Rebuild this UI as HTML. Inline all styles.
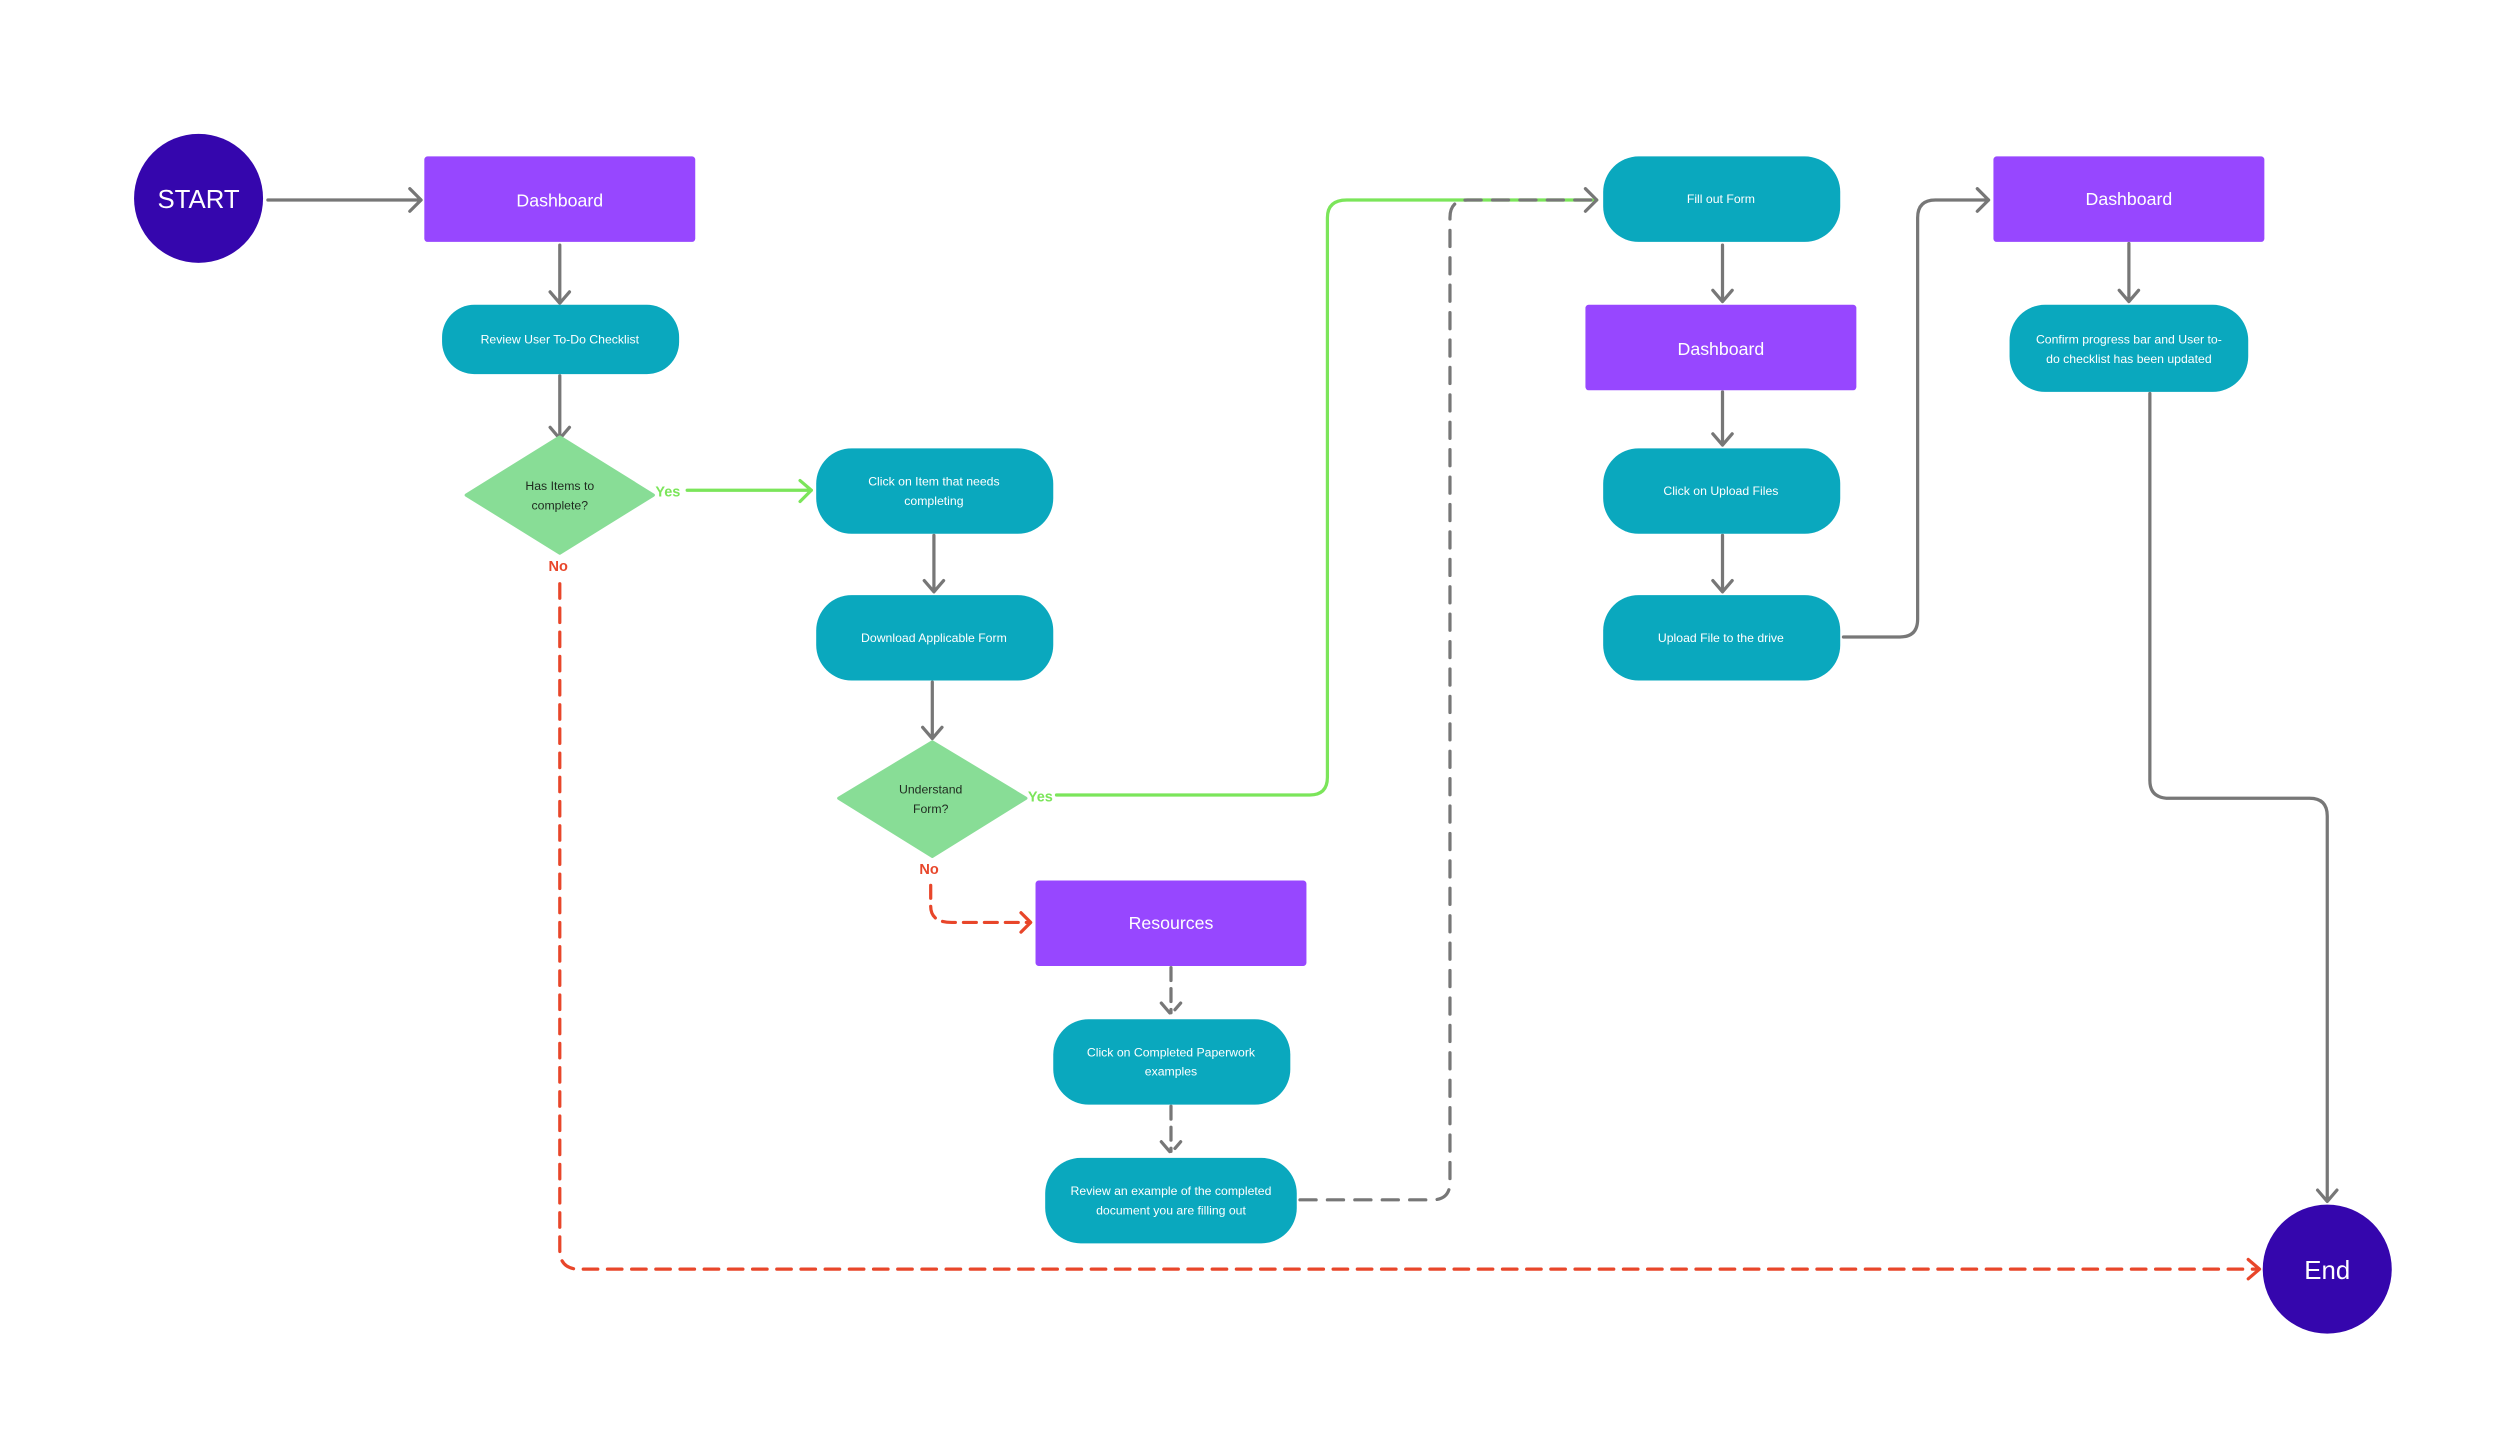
<!DOCTYPE html>
<html><head><meta charset="utf-8"><style>
html,body{margin:0;padding:0;background:#fff;}
svg{display:block;}
text{font-family:"Liberation Sans",sans-serif;}
</style></head><body>
<svg width="2500" height="1453" viewBox="0 0 1550 901" xmlns="http://www.w3.org/2000/svg">
<rect width="1550" height="901" fill="#fff"/>
<g fill="none" stroke-linecap="round" stroke-linejoin="round">
<!-- green yes paths -->
<path d="M426 304 H503 M496 298 L503 304 L496 311" stroke="#7BE55A" stroke-width="2"/>
<path d="M655 493 H812 Q823 493 823 482 V135 Q823 124 835 124 H990" stroke="#7BE55A" stroke-width="2"/>
<!-- gray dashed -->
<path d="M806 744 H888 Q899 744 899 733 V135 Q899 124 910 124 H988" stroke="#777" stroke-width="2" stroke-dasharray="10 7"/>
<path d="M726 600 V628 M720 622 L726 629 L732 622" stroke="#777" stroke-width="2" stroke-dasharray="8 5"/>
<path d="M726 686 V714 M720 708 L726 715 L732 708" stroke="#777" stroke-width="2" stroke-dasharray="8 5"/>
<!-- red dashed -->
<path d="M347 362 V775 Q347 787 359 787 H1400" stroke="#E8462A" stroke-width="2" stroke-dasharray="9 6"/>
<path d="M1394 781 L1401 787 L1394 793" stroke="#E8462A" stroke-width="2"/>
<path d="M577 549 V562 Q577 572 590 572 H638" stroke="#E8462A" stroke-width="2" stroke-dasharray="8 5"/>
<path d="M633 566 L639 572 L633 578" stroke="#E8462A" stroke-width="2"/>
<!-- gray solid -->
<g stroke="#777" stroke-width="2">
<path d="M166 124 H260 M254 117 L261 124 L254 131"/>
<path d="M347 152 V187 M341 181 L347 188 L353 181"/>
<path d="M347 233 V271 M341 265 L347 272 L353 265"/>
<path d="M579 332 V366 M573 360 L579 367 L585 360"/>
<path d="M578 423 V457 M572 451 L578 458 L584 451"/>
<path d="M983 117 L990 124 L983 131"/>
<path d="M1068 152 V186 M1062 180 L1068 187 L1074 180"/>
<path d="M1068 243 V275 M1062 269 L1068 276 L1074 269"/>
<path d="M1068 332 V366 M1062 360 L1068 367 L1074 360"/>
<path d="M1143 395 H1178 Q1189 395 1189 384 V135 Q1189 124 1200 124 H1233 M1226 117 L1233 124 L1226 131"/>
<path d="M1320 151 V186 M1314 180 L1320 187 L1326 180"/>
<path d="M1333 244 V484 Q1333 495 1345 495 H1432 Q1443 495 1443 506 V744 M1437 738 L1443 745 L1449 738"/>
</g>
</g>
<!-- nodes -->
<circle cx="123" cy="123" r="40" fill="#3506AD"/>
<text x="123" y="129" fill="#fff" font-size="16" text-anchor="middle">START</text>
<circle cx="1443" cy="787" r="40" fill="#3506AD"/>
<text x="1443" y="793" fill="#fff" font-size="16" text-anchor="middle">End</text>

<g fill="#9747FF">
<rect x="263" y="97" width="168" height="53" rx="2"/>
<rect x="983" y="189" width="168" height="53" rx="2"/>
<rect x="1236" y="97" width="168" height="53" rx="2"/>
<rect x="642" y="546" width="168" height="53" rx="2"/>
</g>
<g fill="#fff" font-size="11" text-anchor="middle">
<text x="347" y="128">Dashboard</text>
<text x="1067" y="220">Dashboard</text>
<text x="1320" y="127">Dashboard</text>
<text x="726" y="576">Resources</text>
</g>

<g fill="#0AA8BE">
<rect x="274" y="189" width="147" height="43" rx="20"/>
<rect x="506" y="278" width="147" height="53" rx="22"/>
<rect x="506" y="369" width="147" height="53" rx="22"/>
<rect x="653" y="632" width="147" height="53" rx="22"/>
<rect x="648" y="718" width="156" height="53" rx="22"/>
<rect x="994" y="97" width="147" height="53" rx="22"/>
<rect x="994" y="278" width="147" height="53" rx="22"/>
<rect x="994" y="369" width="147" height="53" rx="22"/>
<rect x="1246" y="189" width="148" height="54" rx="22"/>
</g>
<g fill="#fff" font-size="7.6" text-anchor="middle">
<text x="347" y="213">Review User To-Do Checklist</text>
<text x="579" y="301">Click on Item that needs</text>
<text x="579" y="313">completing</text>
<text x="579" y="398">Download Applicable Form</text>
<text x="726" y="655">Click on Completed Paperwork</text>
<text x="726" y="667">examples</text>
<text x="726" y="741">Review an example of the completed</text>
<text x="726" y="753">document you are filling out</text>
<text x="1067" y="126">Fill out Form</text>
<text x="1067" y="307">Click on Upload Files</text>
<text x="1067" y="398">Upload File to the drive</text>
<text x="1320" y="213">Confirm progress bar and User to-</text>
<text x="1320" y="225">do checklist has been updated</text>
</g>

<polygon points="289,307 347,271 405,307 347,343" fill="#88DD96" stroke="#88DD96" stroke-width="2" stroke-linejoin="round"/>
<polygon points="520,495 578,460 636,495 578,531" fill="#88DD96" stroke="#88DD96" stroke-width="2" stroke-linejoin="round"/>
<g fill="#1f2a1f" font-size="7.6" text-anchor="middle">
<text x="347" y="304">Has Items to</text>
<text x="347" y="316">complete?</text>
<text x="577" y="492">Understand</text>
<text x="577" y="504">Form?</text>
</g>
<g font-size="9" font-weight="bold" text-anchor="middle">
<text x="414" y="308" fill="#7BE55A">Yes</text>
<text x="645" y="497" fill="#7BE55A">Yes</text>
<text x="346" y="354" fill="#E8462A">No</text>
<text x="576" y="542" fill="#E8462A">No</text>
</g>
</svg>
</body></html>
